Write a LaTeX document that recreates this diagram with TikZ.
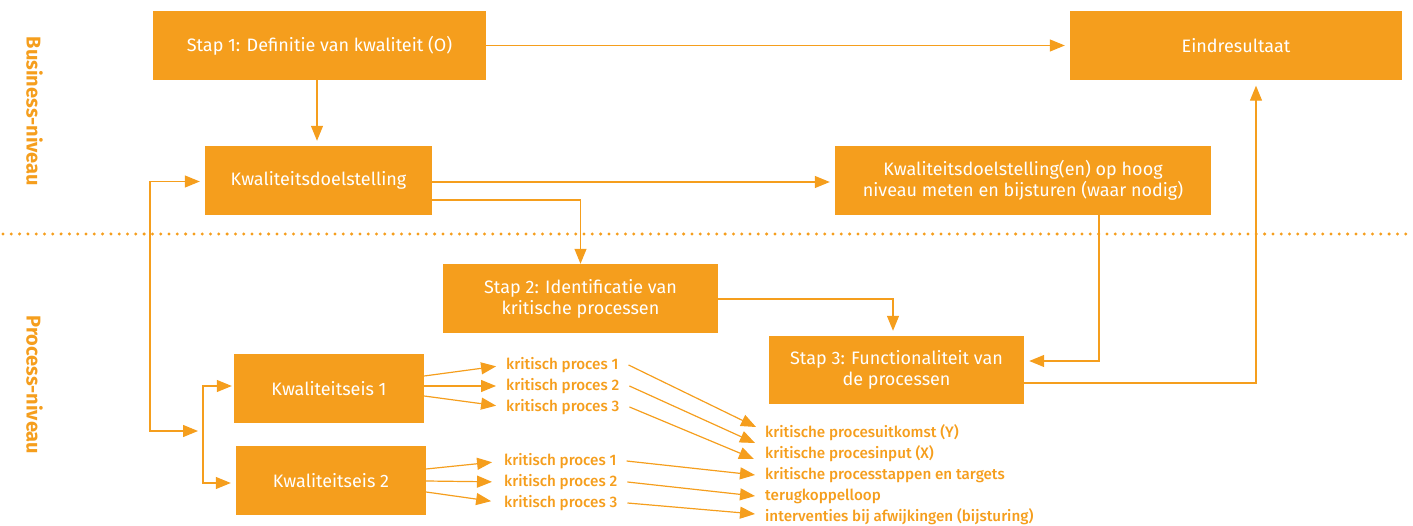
\documentclass[tikz,border=0pt]{standalone}
\usepackage{fontspec}
\setmainfont{Fira Sans}
\newfontfamily\medfont{Fira Sans}[UprightFont=* Medium]
\usetikzlibrary{arrows.meta,calc}
\definecolor{org}{RGB}{245,158,29}
\begin{document}
\begin{tikzpicture}[x=1pt,y=-1pt,
  box/.style={fill=org,text=white,align=center,font=\fontsize{18}{21}\selectfont,inner sep=0pt},
  lbl/.style={text=org,font=\medfont\fontsize{15.2}{18}\selectfont,inner sep=0pt,anchor=west},
  side/.style={text=org,font=\bfseries\fontsize{20}{24}\selectfont,rotate=-90,inner sep=0pt},
  conn/.style={draw=org,line width=1.2pt,-{Triangle[length=15pt,width=12pt]}},
  gap/.style={shorten >=5pt},
]
\useasboundingbox (0,0) rectangle (1413,526);

% level labels
\node[side] (bn) at (34.5,111.5) {Business-niveau};
\node[side] (pn) at (34.5,385) {Process-niveau};

% dotted separator
\draw[org,line width=3.3pt,line cap=round,dash pattern=on 0pt off 8.3pt] (3,234) -- (1413,234);

% boxes
\node[box,minimum width=333pt,minimum height=69pt] (s1) at (319.5,45.5) {Stap 1: Definitie van kwaliteit (O)};
\node[box,minimum width=332pt,minimum height=69pt] (end) at (1236,46) {Eindresultaat};
\node[box,minimum width=227pt,minimum height=69pt] (kd) at (318.5,180.5) {Kwaliteitsdoelstelling};
\node[box,minimum width=376pt,minimum height=69pt] (kh) at (1023,180.5) {Kwaliteitsdoelstelling(en) op hoog\\niveau meten en bijsturen (waar nodig)};
\node[box,minimum width=275pt,minimum height=69pt] (s2) at (580.5,298.5) {Stap 2: Identificatie van\\kritische processen};
\node[box,minimum width=255pt,minimum height=68pt] (s3) at (896.5,370) {Stap 3: Functionaliteit van\\de processen};
\node[box,minimum width=190pt,minimum height=69pt] (k1) at (329,388.5) {Kwaliteitseis 1};
\node[box,minimum width=190pt,minimum height=69pt] (k2) at (331,480.5) {Kwaliteitseis 2};

% labels: critical processes
\node[lbl] (kp11) at (506,365) {kritisch proces 1};
\node[lbl] (kp12) at (506,386) {kritisch proces 2};
\node[lbl] (kp13) at (506,407) {kritisch proces 3};
\node[lbl] (kp21) at (504,461) {kritisch proces 1};
\node[lbl] (kp22) at (504,482) {kritisch proces 2};
\node[lbl] (kp23) at (504,503) {kritisch proces 3};

% labels: right list
\node[lbl] (r1) at (765,433) {kritische procesuitkomst (Y)};
\node[lbl] (r2) at (765,454) {kritische procesinput (X)};
\node[lbl] (r3) at (765,475) {kritische processtappen en targets};
\node[lbl] (r4) at (765,496) {terugkoppelloop};
\node[lbl] (r5) at (765,517) {interventies bij afwijkingen (bijsturing)};

% connectors, business level
\draw[conn,gap] (s1.east) -- (s1.east -| end.west);
\draw[conn,gap] ([xshift=-2.5pt]s1.south) -- ([xshift=-2.5pt]s1.south |- kd.north);
\draw[conn,gap] ([yshift=-1.5pt]kd.east) -- ([yshift=-1.5pt]kd.east -| kh.west);
\draw[conn] ([yshift=-19.5pt]kd.east) -| (s2.north);
\draw[conn,gap] ([yshift=-0.5pt]s2.east) -| ([xshift=-3.5pt]s3.north);
\draw[conn,gap] ([xshift=76pt]kh.south) |- ([yshift=9pt]s3.east);
\draw[conn,gap] ([yshift=-13pt]s3.east) -| ([xshift=20pt]end.south);

% left brackets
\coordinate (lt) at (150,181.5);
\coordinate (br) at (203,431);
\draw[conn,gap] (lt) -- (lt -| kd.west);
\draw[conn,gap] (lt) |- (br);
\draw[conn] (br) |- ([yshift=2.5pt,xshift=-2pt]k1.west);
\draw[conn] (br) |- ([yshift=-2.5pt,xshift=-5pt]k2.west);

% Kwaliteitseis -> kritisch proces
\draw[conn,shorten >=10pt] ([yshift=12.5pt]k1.east) -- (kp11.west);
\draw[conn,shorten >=10pt] ([yshift=2.5pt]k1.east) -- (kp12.west);
\draw[conn,shorten >=10pt] ([yshift=-7.5pt]k1.east) -- (kp13.west);
\draw[conn,shorten >=12pt] ([yshift=11.5pt]k2.east) -- (kp21.west);
\draw[conn,shorten >=12pt] ([yshift=-0.5pt]k2.east) -- (kp22.west);
\draw[conn,shorten >=13pt] ([yshift=-11.5pt]k2.east) -- (kp23.west);

% kritisch proces -> list
\draw[conn] ([xshift=10pt]kp11.east) -- ([xshift=-9pt,yshift=6pt]r1.west);
\draw[conn] ([xshift=10pt]kp12.east) -- ([xshift=-10pt,yshift=-10pt]r1.west);
\draw[conn] ([xshift=10pt]kp13.east) -- ([xshift=-11pt,yshift=-5pt]r2.west);
\draw[conn] ([xshift=10pt]kp21.east) -- ([xshift=-10pt]r3.west);
\draw[conn] ([xshift=10pt]kp22.east) -- ([xshift=-10pt]r4.west);
\draw[conn] ([xshift=10pt]kp23.east) -- ([xshift=-10pt,yshift=3pt]r5.west);
\end{tikzpicture}
\end{document}
